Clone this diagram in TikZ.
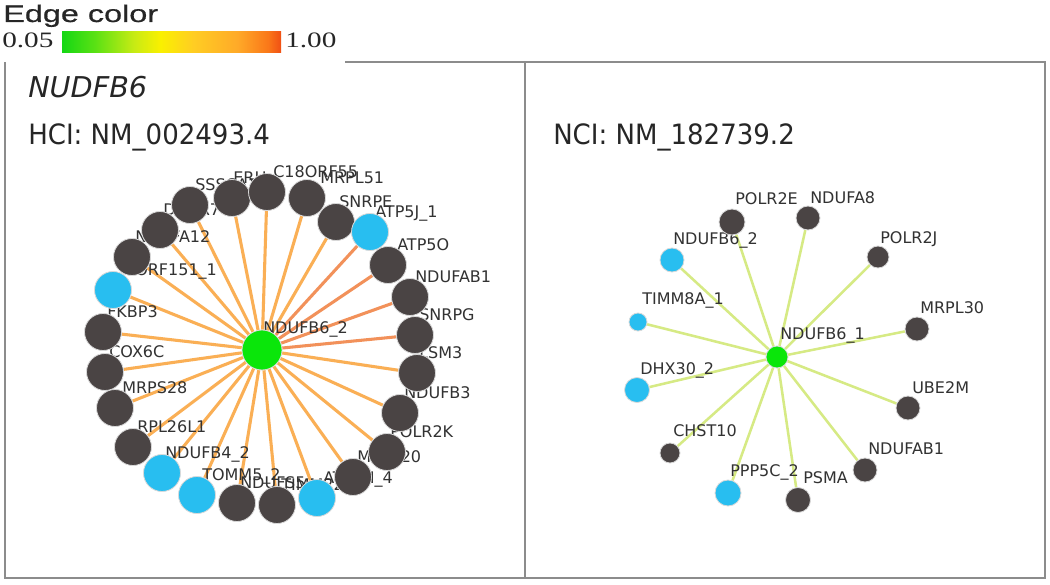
\documentclass[tikz,border=0pt]{standalone}
\usepackage{fontspec}
\setmainfont{DejaVu Sans}
\newfontfamily\lblfont{DejaVu Sans}
\newfontfamily\headfont[FakeStretch=0.93]{DejaVu Sans}
\newfontfamily\itfont{DejaVu Sans Oblique}
\newfontfamily\legfont[FakeStretch=1.35,FakeBold=0.6]{Liberation Sans}
\newfontfamily\numfont[FakeStretch=1.33]{Liberation Serif}
\definecolor{dk}{RGB}{74,68,68}
\definecolor{bl}{RGB}{40,190,240}
\definecolor{gr}{RGB}{10,230,10}
\definecolor{oe}{RGB}{250,175,85}
\definecolor{oe2}{RGB}{242,145,90}
\definecolor{ye}{RGB}{214,234,132}
\definecolor{fr}{RGB}{140,140,140}
\definecolor{lbl}{RGB}{50,50,50}
\definecolor{c0}{RGB}{20,215,20}
\definecolor{c1}{RGB}{90,225,20}
\definecolor{c2}{RGB}{200,235,20}
\definecolor{c3}{RGB}{250,240,0}
\definecolor{c4}{RGB}{255,205,35}
\definecolor{c5}{RGB}{255,170,40}
\definecolor{c6}{RGB}{250,120,25}
\definecolor{c7}{RGB}{240,80,20}
\pgfdeclarehorizontalshading{edgebar}{100bp}{color(0bp)=(c0); color(25bp)=(c0); color(32.5bp)=(c1); color(41.5bp)=(c2); color(47.5bp)=(c3); color(55bp)=(c4); color(65bp)=(c5); color(72bp)=(c6); color(75bp)=(c7); color(100bp)=(c7)}
\pgfdeclarelayer{bg}
\pgfdeclarelayer{edges}
\pgfdeclarelayer{labels}
\pgfsetlayers{bg,edges,labels,main}
\begin{document}
\begin{tikzpicture}[x=0.75pt,y=-0.75pt,
  dot/.style={circle,inner sep=0pt,draw=black!15,line width=0.6pt},
  lbl/.style={anchor=base west,inner sep=0pt,font=\lblfont\fontsize{12}{12}\selectfont,text=lbl},
  head/.style={anchor=base west,inner sep=0pt,font=\headfont\fontsize{21}{21}\selectfont,text=black!85},
  hce/.style={draw=oe,line width=2.3pt},
  hce2/.style={draw=oe2,line width=2.3pt},
  nce/.style={draw=ye,line width=1.9pt},
  frame/.style={draw=fr,line width=1.4pt}]
\useasboundingbox (0,0) rectangle (1050,585);
\begin{pgfonlayer}{bg}
\fill[white] (0,0) rectangle (1050,585);
\end{pgfonlayer}
% legend
\node[anchor=base west,inner sep=0pt,font=\legfont\fontsize{18}{18}\selectfont,text=black!85] (legtitle) at (3,22) {Edge color};
\node[anchor=base west,inner sep=0pt,font=\numfont\fontsize{16.5}{16.5}\selectfont,text=black!85] (legmin) at (2,48) {0.05};
\node[anchor=base west,inner sep=0pt,font=\numfont\fontsize{16.5}{16.5}\selectfont,text=black!85] (legmax) at (285,48) {1.00};
\fill[shading=edgebar] (62,32) rectangle (281,53);
% frame
\draw[frame] (345,62) -- (1045,62) -- (1045,578) -- (5,578) -- (5,62);
\draw[frame] (525,62) -- (525,578);
% headings
\node[anchor=base west,inner sep=0pt,font=\itfont\fontsize{21.5}{21.5}\selectfont,text=black!85] (gene) at (28,98) {NUDFB6};
\node[head] (hci) at (28,144) {HCI: NM\_002493.4};
\node[head] (nci) at (553,144) {NCI: NM\_182739.2};
% left network
\node[dot,fill=gr,minimum size=30pt] (C) at (262,350) {};
\begin{pgfonlayer}{labels}
\node[lbl] (C-t) at (263,333) {NDUFB6\_2};
\end{pgfonlayer}
\foreach \n/\x/\y/\c/\t/\dx in {
  L23/160/230/dk/DHCR7/3,
  L24/190/205/dk/SSSCA1/5,
  L25/232/198/dk/ERH/1,
  L1/267/192/dk/C18ORF55/6,
  L2/307/198/dk/MRPL51/13,
  L3/336/222/dk/SNRPE/3,
  L4/370/232/bl/ATP5J\_1/5,
  L5/388/265/dk/ATP5O/9,
  L6/410/297/dk/NDUFAB1/5,
  L7/415/335/dk/SNRPG/4,
  L8/417/373/dk/LSM3/2,
  L9/400/413/dk/NDUFB3/4,
  L10/387/452/dk/POLR2K/3,
  L11/353/477/dk/MRPL20/4,
  L12/317/498/bl/ATP5H\_4/6,
  L13/277/505/dk/TIMM22/4,
  L14/237/503/dk/NDUFS5/3,
  L15/197/495/bl/TOMM5\_2/5,
  L16/162/473/bl/NDUFB4\_2/3,
  L17/133/447/dk/RPL26L1/4,
  L18/115/408/dk/MRPS28/7,
  L19/105/372/dk/COX6C/4,
  L20/103/332/dk/FKBP3/4,
  L21/113/290/bl/ORF151\_1/22,
  L22/132/257/dk/NDUFA12/3} {
  \node[dot,fill=\c,minimum size=27.75pt] (\n) at (\x,\y) {};
  \begin{pgfonlayer}{labels}
  \node[lbl] (\n-t) at (\x+\dx,\y-15) {\t};
  \end{pgfonlayer}
}
\begin{pgfonlayer}{edges}
\foreach \n in {L1,L2,L3,L8,L9,L10,L11,L12,L13,L14,L15,L16,L17,L18,L19,L20,L21,L22,L23,L24,L25}
  \draw[hce] (C) -- (\n);
\foreach \n in {L4,L5,L6,L7}
  \draw[hce2] (C) -- (\n);
\end{pgfonlayer}
% right network
\node[dot,fill=gr,minimum size=16.5pt] (D) at (777,357) {};
\begin{pgfonlayer}{labels}
\node[lbl] (D-t) at (780,339) {NDUFB6\_1};
\end{pgfonlayer}
\foreach \n/\x/\y/\c/\r/\t/\dx/\dy in {
  R1/732/222/dk/13/POLR2E/3/18,
  R2/808/218/dk/12/NDUFA8/2/15,
  R3/878/257/dk/11/POLR2J/2/14,
  R4/917/329/dk/12/MRPL30/3/16,
  R5/908/408/dk/12/UBE2M/4/15,
  R6/865/470/dk/12/NDUFAB1/3/16,
  R7/798/500/dk/12.5/PSMA/5/17,
  R8/728/493/bl/13/PPP5C\_2/2/17,
  R9/670/453/dk/10/CHST10/3/17,
  R10/637/390/bl/12.5/DHX30\_2/3/16,
  R11/638/322/bl/9/TIMM8A\_1/4/18,
  R12/672/260/bl/12/NDUFB6\_2/1/16} {
  \node[dot,fill=\c,minimum size=\r*1.5pt] (\n) at (\x,\y) {};
  \begin{pgfonlayer}{labels}
  \node[lbl] (\n-t) at (\x+\dx,\y-\dy) {\t};
  \end{pgfonlayer}
}
\begin{pgfonlayer}{edges}
\foreach \n in {R1,R2,R3,R4,R5,R6,R7,R8,R9,R10,R11,R12}
  \draw[nce] (D) -- (\n);
\end{pgfonlayer}
\end{tikzpicture}
\end{document}
